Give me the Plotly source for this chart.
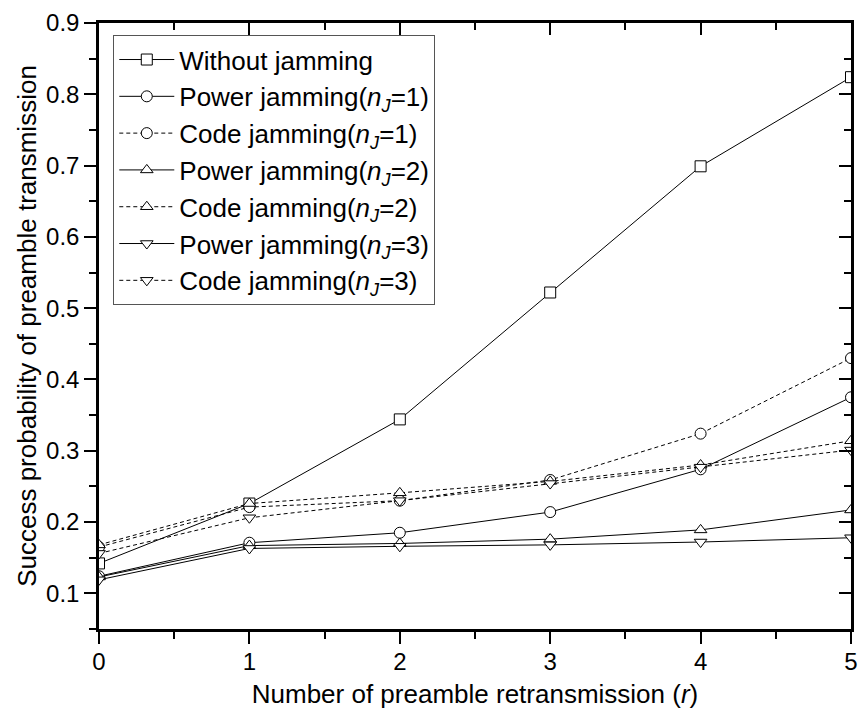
import plotly.graph_objects as go

r_values = [0, 1, 2, 3, 4, 5]
without_jamming = [0.142, 0.226, 0.344, 0.522, 0.699, 0.824]
power_nj1 = [0.124, 0.171, 0.185, 0.214, 0.274, 0.375]
code_nj1 = [0.165, 0.221, 0.230, 0.259, 0.324, 0.430]
power_nj2 = [0.123, 0.167, 0.170, 0.176, 0.189, 0.217]
code_nj2 = [0.168, 0.226, 0.241, 0.257, 0.280, 0.314]
power_nj3 = [0.119, 0.163, 0.166, 0.168, 0.172, 0.178]
code_nj3 = [0.156, 0.206, 0.230, 0.254, 0.277, 0.301]

series = [
    ("Without jamming", without_jamming, "square-open", "solid"),
    ("Power jamming(<i>n</i><sub><i>J</i></sub>=1)", power_nj1, "circle-open", "solid"),
    ("Code jamming(<i>n</i><sub><i>J</i></sub>=1)", code_nj1, "circle-open", "4px,3px"),
    ("Power jamming(<i>n</i><sub><i>J</i></sub>=2)", power_nj2, "triangle-up-open", "solid"),
    ("Code jamming(<i>n</i><sub><i>J</i></sub>=2)", code_nj2, "triangle-up-open", "4px,3px"),
    ("Power jamming(<i>n</i><sub><i>J</i></sub>=3)", power_nj3, "triangle-down-open", "solid"),
    ("Code jamming(<i>n</i><sub><i>J</i></sub>=3)", code_nj3, "triangle-down-open", "4px,3px"),
]

FONT = "Liberation Sans, Arial, sans-serif"

fig = go.Figure()
for name, vals, sym, dash in series:
    base = sym.replace("-open", "")
    fig.add_trace(go.Scatter(
        x=r_values, y=vals, name=name, mode="lines+markers",
        line=dict(color="black", width=1, dash=dash),
        marker=dict(symbol=base, size=11, color="white",
                    line=dict(color="black", width=1)),
    ))

axis_common = dict(
    showline=True, linewidth=2.5, linecolor="black", mirror=True,
    showgrid=False, zeroline=False,
    ticks="outside", ticklen=12, tickwidth=2, tickcolor="black",
    tickfont=dict(family=FONT, size=24, color="black"),
)

fig.update_layout(
    width=861, height=719,
    margin=dict(l=99, r=10, t=23, b=90, autoexpand=False),
    paper_bgcolor="white", plot_bgcolor="white",
    font=dict(family=FONT, size=24, color="black"),
    xaxis=dict(
        range=[0, 5], dtick=1, tick0=0, ticklabelstandoff=-3,
        minor=dict(dtick=0.5, ticklen=7, tickwidth=2, tickcolor="black", ticks="outside"),
        title=dict(text="Number of preamble retransmission (<i>r</i>)",
                   font=dict(family=FONT, size=26), standoff=12),
        **axis_common,
    ),
    yaxis=dict(
        range=[0.05, 0.9], dtick=0.1, tick0=0, tickformat=".1f",
        minor=dict(dtick=0.05, ticklen=7, tickwidth=2, tickcolor="black", ticks="outside"),
        title=dict(text="Success probability of preamble transmission",
                   font=dict(family=FONT, size=26), standoff=2),
        **axis_common,
    ),
    xaxis2=dict(
        overlaying="x", side="top", anchor="y", range=[0, 5], dtick=1, tick0=0,
        showticklabels=False, showline=False, showgrid=False, zeroline=False,
        ticks="inside", ticklen=12, tickwidth=2, tickcolor="black",
        minor=dict(dtick=0.5, ticklen=7, tickwidth=2, tickcolor="black", ticks="inside"),
    ),
    yaxis2=dict(
        overlaying="y", side="right", anchor="x", range=[0.05, 0.9], dtick=0.1, tick0=0,
        showticklabels=False, showline=False, showgrid=False, zeroline=False,
        ticks="inside", ticklen=12, tickwidth=2, tickcolor="black",
        minor=dict(dtick=0.05, ticklen=7, tickwidth=2, tickcolor="black", ticks="inside"),
    ),
    legend=dict(
        x=0.019, y=0.98, xanchor="left", yanchor="top",
        bgcolor="white", bordercolor="#555555", borderwidth=1,
        font=dict(family=FONT, size=26, color="black"),
        itemwidth=55, tracegroupgap=0,
    ),
    showlegend=True,
)

# invisible trace to activate the mirrored tick axes
fig.add_trace(go.Scatter(x=[None], y=[None], xaxis="x2", yaxis="y2",
                         showlegend=False, hoverinfo="skip"))

fig.write_html("out.html")
